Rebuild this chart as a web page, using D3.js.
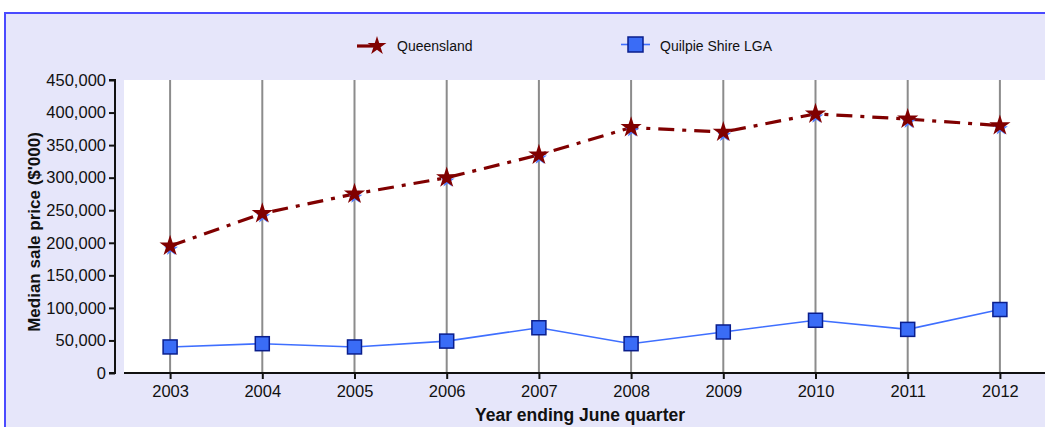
<!DOCTYPE html>
<html>
<head>
<meta charset="utf-8">
<script src="https://cdn.jsdelivr.net/npm/d3@7"></script>
<style>
  body { margin: 0; background: #fff; }
  svg { display: block; font-family: "Liberation Sans", Arial, sans-serif; }
  .tick text { font-size: 16.5px; fill: #111; }
  .axis-title { font-weight: bold; fill: #111; }
  .legend text { font-size: 14px; fill: #111; }
</style>
</head>
<body>
<svg width="1045" height="427"></svg>
<script>
// values
const years = ["2003", "2004", "2005", "2006", "2007", "2008", "2009", "2010", "2011", "2012"];
const queensland = [195000, 245000, 275000, 300000, 335000, 377000, 370000, 398000, 390000, 380000];
const quilpie = [40000, 45000, 40000, 49000, 69500, 45000, 63000, 81000, 67000, 97500];
const yTicks = [0, 50000, 100000, 150000, 200000, 250000, 300000, 350000, 400000, 450000];

const svg = d3.select('svg');

// frame
svg.append('rect')
  .attr('x', 5).attr('y', 13)
  .attr('width', 1045).attr('height', 420)
  .attr('fill', '#e6e6fa')
  .attr('stroke', '#4a4aff')
  .attr('stroke-width', 2);

const plot = { left: 124, right: 1046, top: 80, bottom: 373 };

const xScale = d3.scalePoint()
  .domain(years)
  .range([plot.left, plot.right])
  .padding(0.5);

const yScale = d3.scaleLinear()
  .domain([0, 450000])
  .range([plot.bottom, plot.top]);

svg.append('rect')
  .attr('x', plot.left).attr('y', plot.top)
  .attr('width', plot.right - plot.left)
  .attr('height', plot.bottom - plot.top)
  .attr('fill', '#fff');

// vertical grid lines
svg.append('g')
  .selectAll('line')
  .data(years)
  .join('line')
  .attr('x1', d => xScale(d)).attr('x2', d => xScale(d))
  .attr('y1', plot.top).attr('y2', plot.bottom)
  .attr('stroke', '#8c8c8c')
  .attr('stroke-width', 2);

// axes
const yAxis = svg.append('g')
  .attr('transform', 'translate(115,0)')
  .call(d3.axisLeft(yScale).tickValues(yTicks).tickSize(6).tickPadding(3)
    .tickFormat(d3.format(',')));
yAxis.select('.domain').attr('stroke', '#111').attr('stroke-width', 2)
  .attr('d', `M-6,${plot.top}H0V${plot.bottom}H-6`);
yAxis.selectAll('.tick line').attr('stroke', '#111').attr('stroke-width', 2);

const xAxis = svg.append('g')
  .attr('transform', `translate(0,${plot.bottom})`)
  .call(d3.axisBottom(xScale).tickSize(6).tickPadding(6));
xAxis.select('.domain').attr('stroke', '#111').attr('stroke-width', 2)
  .attr('d', `M${plot.left},0H1045`);
xAxis.selectAll('.tick line').attr('stroke', '#111').attr('stroke-width', 2);

svg.append('text')
  .attr('class', 'axis-title')
  .attr('x', 580).attr('y', 421)
  .attr('text-anchor', 'middle')
  .style('font-size', '17.5px')
  .text('Year ending June quarter');

svg.append('text')
  .attr('class', 'axis-title')
  .attr('transform', `translate(40,232) rotate(-90)`)
  .attr('text-anchor', 'middle')
  .style('font-size', '17px')
  .text("Median sale price ($'000)");

// lines
const line = d3.line()
  .x((d, i) => xScale(years[i]))
  .y(d => yScale(d));

svg.append('path')
  .datum(quilpie)
  .attr('d', line)
  .attr('fill', 'none')
  .attr('stroke', '#3f6fff')
  .attr('stroke-width', 1.6);

svg.append('path')
  .datum(queensland)
  .attr('d', line)
  .attr('fill', 'none')
  .attr('stroke', '#800000')
  .attr('stroke-width', 3.2)
  .attr('stroke-dasharray', '16,8,4,8');

const star = d3.symbol().type(d3.symbolStar);

// Queensland markers
const qg = svg.append('g');
qg.selectAll('.blue-star')
  .data(queensland)
  .join('path')
  .attr('d', star.size(60))
  .attr('transform', (d, i) => `translate(${xScale(years[i]) + 1},${yScale(d) + 3})`)
  .attr('fill', '#4f7dff');
qg.selectAll('.red-star')
  .data(queensland)
  .join('path')
  .attr('class', 'red-star')
  .attr('d', star.size(140))
  .attr('transform', (d, i) => `translate(${xScale(years[i])},${yScale(d)})`)
  .attr('fill', '#800000');

// Quilpie markers
svg.append('g')
  .selectAll('rect')
  .data(quilpie)
  .join('rect')
  .attr('x', (d, i) => xScale(years[i]) - 7)
  .attr('y', d => yScale(d) - 7)
  .attr('width', 14).attr('height', 14)
  .attr('fill', '#3a6cf6')
  .attr('stroke', '#0a1e8c')
  .attr('stroke-width', 1.5);

// legend
const legend = svg.append('g').attr('class', 'legend');
legend.append('line')
  .attr('x1', 357).attr('x2', 378).attr('y1', 46).attr('y2', 46)
  .attr('stroke', '#800000').attr('stroke-width', 3.2);
legend.append('path')
  .attr('d', star.size(110))
  .attr('transform', 'translate(377,46)')
  .attr('fill', '#800000');
legend.append('text').attr('x', 397).attr('y', 51).text('Queensland');

legend.append('line')
  .attr('x1', 621).attr('x2', 650).attr('y1', 44.5).attr('y2', 44.5)
  .attr('stroke', '#3f6fff').attr('stroke-width', 1.6);
legend.append('rect')
  .attr('x', 628).attr('y', 37).attr('width', 15).attr('height', 15)
  .attr('fill', '#3a6cf6').attr('stroke', '#0a1e8c').attr('stroke-width', 1.5);
legend.append('text').attr('x', 660).attr('y', 51).text('Quilpie Shire LGA');
</script>
</body>
</html>
